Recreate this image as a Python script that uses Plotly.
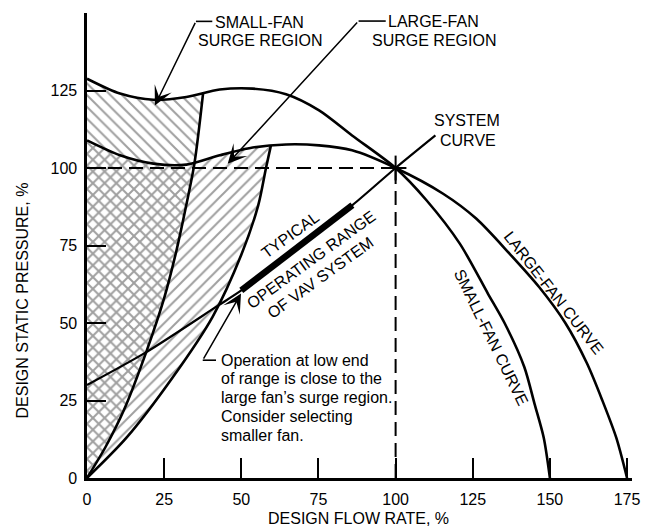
import plotly.graph_objects as go

# ---------------- data (flow rate %, static pressure %) ----------------
small_fan_x = [0, 10.7, 21.5, 32.2, 43, 53.7, 64.5, 75.2, 85.9, 100, 110, 120.8, 129.9, 135.3, 141.7, 145, 148, 150]
small_fan_y = [128.8, 124, 122, 122.9, 125.3, 125.6, 123.8, 118.6, 110.5, 100, 89.6, 75.6, 59.5, 50, 35.8, 24, 13, 0]

large_fan_x = [0, 10.7, 21.5, 32.2, 43, 53.7, 64.5, 75.2, 85.9, 100, 115.4, 126.1, 136.9, 146.5, 155, 162, 167, 171.5, 175]
large_fan_y = [108.9, 104.1, 101.4, 101.1, 104.1, 106.6, 107.6, 107.3, 105.7, 100, 91.7, 83.7, 72.4, 61.6, 50, 37, 25, 13, 0]

small_surge_x = [0, 6, 12, 19.5, 25, 28.9, 31.6, 34.8, 37.6]
small_surge_y = [0, 10, 22, 41.5, 58, 73, 85.3, 101.4, 124]

large_surge_x = [0, 12.8, 27.8, 40.7, 50, 55.5, 58, 59.6]
large_surge_y = [0, 13, 32.5, 52, 72, 88, 100, 107.3]

system_x = [0, 19.2, 42.3, 50, 68, 86, 100, 112.9]
system_y = [30, 40.6, 55.5, 60.5, 74, 88, 100, 110.5]

operating_range = [50, 86]
design_point = [100, 100]

x_ticks = [0, 25, 50, 75, 100, 125, 150, 175]
y_ticks = [0, 25, 50, 75, 100, 125]

FONT = "Liberation Sans, Arial, sans-serif"
HATCH = "#a0a0a0"

# ---------------- figure ----------------
fig = go.Figure()


def region(fan_x, fan_y, surge_x, surge_y):
    top = surge_x[-1]
    xs = [x for x in fan_x if x < top] + surge_x[::-1]
    ys = [y for x, y in zip(fan_x, fan_y) if x < top] + surge_y[::-1]
    return xs, ys


ax_, ay_ = region(small_fan_x, small_fan_y, small_surge_x, small_surge_y)
bx_, by_ = region(large_fan_x, large_fan_y, large_surge_x, large_surge_y)

fig.add_trace(go.Scatter(
    x=ax_, y=ay_, mode="lines", fill="toself", line=dict(width=0),
    fillcolor="rgba(0,0,0,0)",
    fillpattern=dict(shape="\\", fgcolor=HATCH, bgcolor="rgba(0,0,0,0)",
                     size=8.3, solidity=0.24, fillmode="replace"),
    hoverinfo="skip", showlegend=False))
fig.add_trace(go.Scatter(
    x=bx_, y=by_, mode="lines", fill="toself", line=dict(width=0),
    fillcolor="rgba(0,0,0,0)",
    fillpattern=dict(shape="/", fgcolor=HATCH, bgcolor="rgba(0,0,0,0)",
                     size=8.3, solidity=0.24, fillmode="replace"),
    hoverinfo="skip", showlegend=False))

curve_style = dict(color="black", width=2.6, shape="spline", smoothing=0.8)
for xs, ys in [(small_fan_x, small_fan_y), (large_fan_x, large_fan_y),
               (small_surge_x, small_surge_y), (large_surge_x, large_surge_y)]:
    fig.add_trace(go.Scatter(x=xs, y=ys, mode="lines", line=curve_style,
                             hoverinfo="skip", showlegend=False))

fig.add_trace(go.Scatter(x=system_x, y=system_y, mode="lines",
                         line=dict(color="black", width=2.2, shape="spline", smoothing=0.8),
                         hoverinfo="skip", showlegend=False))

op_x = [x for x in system_x if operating_range[0] <= x <= operating_range[1]]
op_y = [y for x, y in zip(system_x, system_y) if operating_range[0] <= x <= operating_range[1]]
fig.add_trace(go.Scatter(x=op_x, y=op_y, mode="lines",
                         line=dict(color="black", width=6.5),
                         hoverinfo="skip", showlegend=False))

# ---------------- reference lines ----------------
dx, dy = design_point
shapes = [
    dict(type="line", x0=0, y0=dy, x1=dx, y1=dy, line=dict(color="black", width=2, dash="14px,7px")),
    dict(type="line", x0=dx, y0=0, x1=dx, y1=dy, line=dict(color="black", width=2, dash="14px,7px")),
    dict(type="line", x0=dx - 3, y0=dy, x1=dx + 3.5, y1=dy, line=dict(color="black", width=2)),
    dict(type="line", x0=dx, y0=dy - 4, x1=dx, y1=dy + 4, line=dict(color="black", width=2)),
    # leader stubs
    dict(type="line", x0=35.3, y0=147.3, x1=40.6, y1=147.3, line=dict(color="black", width=1.6)),
    dict(type="line", x0=88.0, y0=147.4, x1=96.8, y1=147.4, line=dict(color="black", width=1.6)),
    dict(type="line", x0=37.5, y0=38.0, x1=41.8, y1=38.0, line=dict(color="black", width=1.6)),
]

tf = dict(family=FONT, size=16, color="black")
ann = []


def txt(x, y, s, angle=0, xanchor="center"):
    ann.append(dict(x=x, y=y, xref="x", yref="y", text=s, showarrow=False,
                    textangle=angle, xanchor=xanchor, yanchor="middle", font=tf))


def arrow(x, y, axv, ayv):
    ann.append(dict(x=x, y=y, ax=axv, ay=ayv, xref="x", yref="y", axref="x", ayref="y",
                    text="", showarrow=True, arrowhead=3, arrowsize=2.1, arrowwidth=1.5,
                    arrowcolor="black"))


txt(55.9, 147.0, "SMALL-FAN")
txt(55.9, 141.2, "SURGE REGION")
txt(112.4, 147.3, "LARGE-FAN")
txt(112.5, 141.2, "SURGE REGION")
txt(123.1, 115.2, "SYSTEM")
txt(123.3, 108.9, "CURVE")
note = ["Operation at low end", "of range is close to the",
        "large fan\u2019s surge region.", "Consider selecting", "smaller fan."]
for s, yy in zip(note, [38.0, 32.1, 26.1, 19.9, 13.8]):
    txt(42.9, yy, s, xanchor="left")
txt(151.1, 59.7, "LARGE-FAN CURVE", angle=52)
txt(130.9, 45.2, "SMALL-FAN CURVE", angle=64)
txt(66.1, 78.4, "TYPICAL", angle=-36)
txt(72.7, 70.5, "OPERATING RANGE", angle=-36)
txt(75.7, 64.7, "OF VAV SYSTEM", angle=-36)

arrow(22.0, 120.2, 35.3, 147.3)
arrow(45.6, 101.4, 88.0, 147.4)
arrow(49.9, 59.5, 37.5, 38.0)

ann.append(dict(x=0.498, y=-0.0874, xref="paper", yref="paper", text="DESIGN FLOW RATE, %",
                showarrow=False, xanchor="center", yanchor="middle", font=tf))
ann.append(dict(x=-0.119, y=0.382, xref="paper", yref="paper", text="DESIGN STATIC PRESSURE, %",
                showarrow=False, textangle=-90, xanchor="center", yanchor="middle", font=tf))

axis_common = dict(showgrid=False, zeroline=False, showline=True, linecolor="black",
                   linewidth=2.6, ticks="inside", tickcolor="black", tickwidth=2,
                   tickfont=tf, fixedrange=True)

fig.update_layout(
    width=652, height=532,
    margin=dict(l=87, r=17, t=13, b=54),
    paper_bgcolor="white", plot_bgcolor="white",
    showlegend=False,
    hovermode=False,
    xaxis=dict(range=[0, 176.6], tickvals=x_ticks, ticklen=20, ticklabelstandoff=5, **axis_common),
    yaxis=dict(range=[0, 150], tickvals=y_ticks, ticklen=19, ticklabelstandoff=4, **axis_common),
    shapes=shapes, annotations=ann,
    font=tf,
)

fig.write_html("out.html", config={"displayModeBar": False, "staticPlot": True},
               post_script="document.body.style.margin='0';")
